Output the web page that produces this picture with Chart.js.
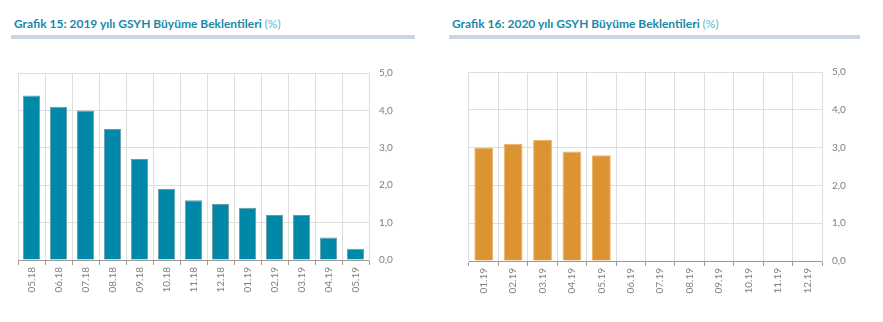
<!DOCTYPE html>
<html>
<head>
<meta charset="utf-8">
<script src="https://cdn.jsdelivr.net/npm/chart.js@4/dist/chart.umd.min.js"></script>
<style>
    html, body { margin: 0; padding: 0; background: #fff; }
    body { width: 883px; height: 322px; position: relative; overflow: hidden; font-family: Lato, sans-serif; }
    .title { position: absolute; top: 16px; font-size: 12px; font-weight: bold; color: #1a88a8; white-space: nowrap; }
    .title span { font-weight: normal; color: #5db6cc; }
    .rule { position: absolute; top: 35px; height: 4px; background: #c9d5e3; }
    .box { position: absolute; top: 50px; height: 272px; }
</style>
</head>
<body>
<div class="title" style="left:14px">Grafik 15: 2019 yılı GSYH Büyüme Beklentileri <span>(%)</span></div>
<div class="rule" style="left:11px;width:404px"></div>
<div class="title" style="left:452px">Grafik 16: 2020 yılı GSYH Büyüme Beklentileri <span>(%)</span></div>
<div class="rule" style="left:449px;width:411px"></div>

<div class="box" style="left:0;width:440px"><canvas id="chart15"></canvas></div>
<div class="box" style="left:440px;width:443px"><canvas id="chart16"></canvas></div>

<script>
var labels2019 = ['05.18', '06.18', '07.18', '08.18', '09.18', '10.18', '11.18', '12.18', '01.19', '02.19', '03.19', '04.19', '05.19'];
var values2019 = [4.4, 4.1, 4.0, 3.5, 2.7, 1.9, 1.6, 1.5, 1.4, 1.2, 1.2, 0.6, 0.3];

var labels2020 = ['01.19', '02.19', '03.19', '04.19', '05.19', '06.19', '07.19', '08.19', '09.19', '10.19', '11.19', '12.19'];
var values2020 = [3.0, 3.1, 3.2, 2.9, 2.8, null, null, null, null, null, null, null];

var yTicks = [0, 1, 2, 3, 4, 5];

function makeChart(id, labels, values, color, border, pad, yWidth, xHeight) {
    var ctx = document.getElementById(id).getContext('2d');
    return new Chart(ctx, {
        type: 'bar',
        data: {
            labels: labels,
            datasets: [{
                data: values,
                backgroundColor: color,
                borderColor: border,
                borderWidth: 1,
                barPercentage: 0.64,
                categoryPercentage: 1
            }]
        },
        options: {
            responsive: true,
            maintainAspectRatio: false,
            animation: false,
            layout: { padding: { left: pad.left, top: pad.top, right: 0, bottom: 0 } },
            plugins: { legend: { display: false }, tooltip: { enabled: false } },
            scales: {
                x: {
                    grid: { color: '#dedede', tickColor: '#9a9a9a', tickLength: 5, offset: true },
                    border: { color: '#9a9a9a' },
                    ticks: {
                        minRotation: 90, maxRotation: 90, padding: 2,
                        color: '#7f7f7f', font: { family: 'Lato', size: 10 }
                    },
                    afterFit: function (scale) { scale.height = xHeight; }
                },
                y: {
                    position: 'right',
                    min: 0, max: 5,
                    afterBuildTicks: function (scale) {
                        scale.ticks = yTicks.map(function (v) { return { value: v }; });
                    },
                    grid: { color: '#dedede', drawTicks: false },
                    border: { color: '#dedede' },
                    ticks: {
                        padding: 10,
                        color: '#7f7f7f', font: { family: 'Lato', size: 10 },
                        callback: function (v) { return v.toFixed(1).replace('.', ','); }
                    },
                    afterFit: function (scale) { scale.width = yWidth; }
                }
            }
        }
    });
}

makeChart('chart15', labels2019, values2019, '#0088a8', '#6e98a4', { left: 18, top: 23 }, 71, 62);
makeChart('chart16', labels2020, values2020, '#dc9432', '#eab26c', { left: 29, top: 22 }, 61, 61);
</script>
</body>
</html>
